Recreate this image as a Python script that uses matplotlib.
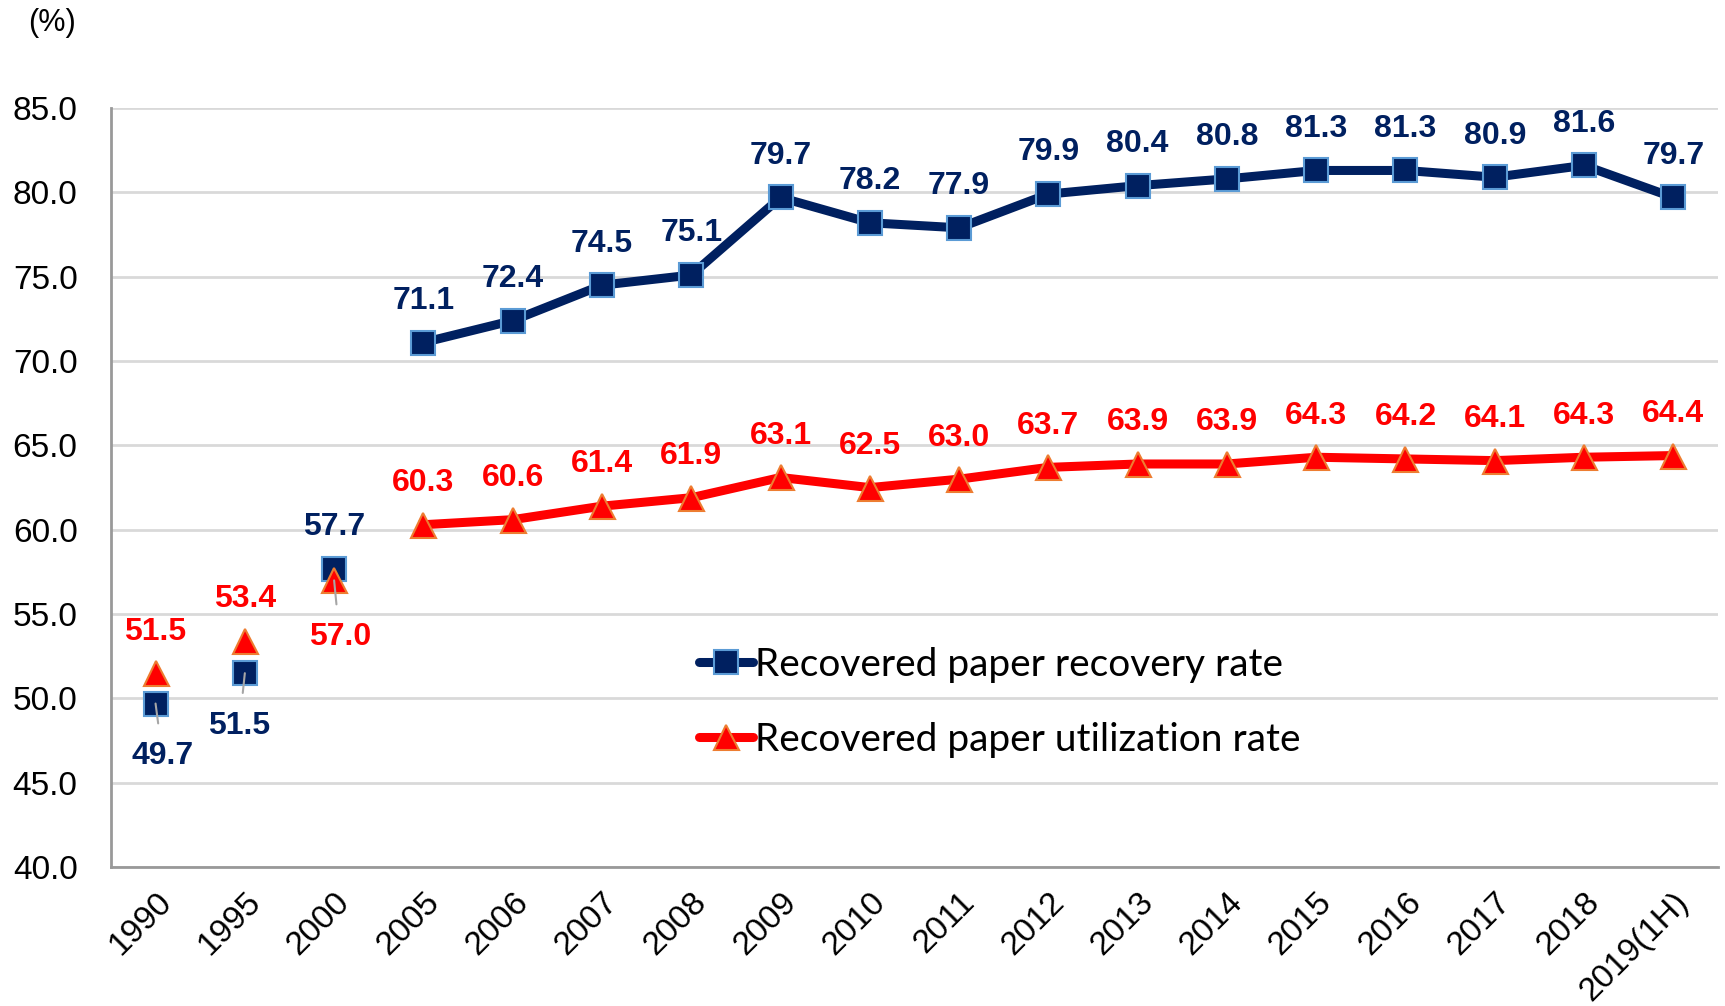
import matplotlib.pyplot as plt
from matplotlib.lines import Line2D

years = ["1990", "1995", "2000", "2005", "2006", "2007", "2008", "2009", "2010",
         "2011", "2012", "2013", "2014", "2015", "2016", "2017", "2018", "2019(1H)"]
recovery = [49.7, 51.5, 57.7, 71.1, 72.4, 74.5, 75.1, 79.7, 78.2,
            77.9, 79.9, 80.4, 80.8, 81.3, 81.3, 80.9, 81.6, 79.7]
utilization = [51.5, 53.4, 57.0, 60.3, 60.6, 61.4, 61.9, 63.1, 62.5,
               63.0, 63.7, 63.9, 63.9, 64.3, 64.2, 64.1, 64.3, 64.4]

navy = "#002060"
navy_edge = "#5b9bd5"
red = "#ff0000"
red_edge = "#ed7d31"

plt.rcParams["font.family"] = ["Liberation Sans", "DejaVu Sans"]

fig = plt.figure(figsize=(17.25, 10.06), dpi=100)
ax = fig.add_axes([0.0643, 0.138, 0.9316, 0.7546])

x = list(range(len(years)))

# early years are only markers, the lines start at 2005
ax.plot(x[3:], recovery[3:], color=navy, lw=6.5, zorder=3)
ax.plot(x[3:], utilization[3:], color=red, lw=6.5, zorder=3)
ax.plot(x, recovery, ls="none", marker="s", ms=17, color=navy,
        mec=navy_edge, mew=1.5, zorder=4)
ax.plot(x, utilization, ls="none", marker="^", ms=18, color=red,
        mec=red_edge, mew=1.5, zorder=5)

lab = dict(fontsize=23, fontweight="bold", ha="center", va="center",
           textcoords="offset points")
leader = dict(arrowstyle="-", color="#a6a6a6", lw=1.5, shrinkA=11, shrinkB=0)
for i in range(len(x)):
    if i in (0, 1):
        ax.annotate(f"{recovery[i]:.1f}", (x[i], recovery[i]),
                    xytext=(5 if i == 0 else -4, -38), color=navy,
                    arrowprops=leader, zorder=6, **lab)
    else:
        ax.annotate(f"{recovery[i]:.1f}", (x[i], recovery[i]), xytext=(0, 30),
                    color=navy, **lab)
    if i == 2:
        ax.annotate(f"{utilization[i]:.1f}", (x[i], utilization[i]),
                    xytext=(4, -41), color=red,
                    arrowprops=leader, zorder=6, **lab)
    else:
        ax.annotate(f"{utilization[i]:.1f}", (x[i], utilization[i]), xytext=(0, 30),
                    color=red, **lab)

ax.set_xlim(-0.5, len(years) - 0.5)
ax.set_ylim(40, 85)
ax.set_yticks([40 + 5 * k for k in range(10)])
ax.set_yticklabels([f"{40 + 5 * k:.1f}" for k in range(10)])
ax.set_xticks(x)
ax.set_xticklabels(years, rotation=45, ha="right", rotation_mode="anchor")
ax.tick_params(axis="both", length=0, labelsize=24)
ax.tick_params(axis="x", pad=14)
ax.tick_params(axis="y", pad=24)

ax.grid(axis="y", color="#d9d9d9", lw=2)
ax.set_axisbelow(True)
for s in ["top", "right"]:
    ax.spines[s].set_visible(False)
for s in ["left", "bottom"]:
    ax.spines[s].set_color("#999999")
    ax.spines[s].set_linewidth(2)

fig.text(0.030, 0.977, "(%)", fontsize=22, ha="center", va="center")

handles = [
    Line2D([], [], color=navy, lw=6.5, marker="s", ms=17, mfc=navy, mec=navy_edge,
           mew=1.5, solid_capstyle="round"),
    Line2D([], [], color=red, lw=6.5, marker="^", ms=18, mfc=red, mec=red_edge,
           mew=1.5, solid_capstyle="round"),
]
ax.legend(handles, ["Recovered paper recovery rate", "Recovered paper utilization rate"],
          loc="center left", bbox_to_anchor=(0.344, 0.2175), frameon=False,
          handlelength=1.4, handletextpad=0.05, labelspacing=1.0,
          prop={"family": "Lato", "size": 28})

fig.savefig("out.png")
